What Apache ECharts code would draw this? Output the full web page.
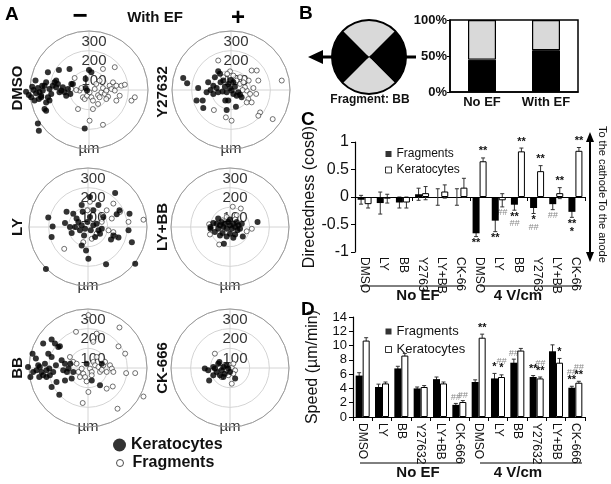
<!DOCTYPE html>
<html><head><meta charset="utf-8">
<script src="https://cdn.jsdelivr.net/npm/echarts@6/dist/echarts.min.js"></script>
<style>html,body{margin:0;padding:0;background:#fff}#c{width:611px;height:484px}</style>
</head><body><div id="c"></div>
<script>
// ---------- Panel A: end-point positions (µm, x to the right = cathode side, y up) ----------
const kerDMSO = [[-320,-9],[-306,-26],[-294,-37],[-282,0],[-272,48],[-289,17],[-260,10],[-252,-12],[-243,-29],[-255,-46],[-235,-3],[-226,22],[-218,39],[-209,90],[-201,5],[-192,-20],[-184,22],[-175,39],[-167,14],[-158,31],[-153,102],[-141,-3],[-133,14],[-124,-12],[-116,-29],[-107,5],[-99,107],[-95,-20],[-90,31],[-218,-63],[-201,-54],[-226,-97],[-218,-105],[-260,-170],[-255,-207],[-243,-37],[-22,-196],[0,102],[12,90],[-17,10],[-10,-3],[-269,-17],[-209,-37],[-167,48],[-150,-12],[-238,22],[-82,31],[-17,56],[-277,-54]];
const fragDMSO = [[-73,61],[-48,-3],[-39,10],[-31,-37],[-22,-46],[-10,-29],[3,-12],[12,-37],[20,-54],[29,5],[37,31],[46,-26],[54,48],[63,-12],[71,10],[80,-20],[88,-3],[97,-34],[105,22],[114,5],[122,39],[131,-3],[139,22],[156,-29],[165,22],[182,27],[131,116],[71,107],[-56,-97],[3,-156],[71,-177],[216,-54],[233,-37],[139,-54],[46,-71],[20,-97],[54,-37],[88,-46],[-65,0],[-90,5]];
const kerY27632 = [[-243,61],[-223,34],[-167,10],[-144,-54],[-141,-92],[-175,-54],[-116,39],[-90,22],[-82,65],[-65,95],[-56,82],[-73,10],[-65,-12],[-53,39],[-39,48],[-31,17],[-22,-12],[-14,31],[-5,10],[3,-3],[12,-20],[20,17],[29,-29],[37,-12],[46,-24],[54,-37],[-14,-54],[-22,-102],[25,-85],[-104,0],[-43,-7],[-2,51],[12,39],[-90,-20],[-124,-12],[-29,-54]];
const fragY27632 = [[-65,150],[-5,95],[12,73],[29,48],[46,31],[63,39],[90,48],[105,99],[131,99],[139,48],[258,48],[80,-3],[97,-20],[128,-20],[88,-46],[80,-63],[105,-63],[148,-114],[139,-131],[212,-148],[3,-156],[-26,-139],[-87,-102],[71,14],[46,65],[-39,65],[-19,82],[114,10],[59,0]];
const kerLY = [[138,173],[10,153],[53,112],[-32,112],[-109,77],[-75,68],[-27,77],[27,85],[-202,48],[-180,3],[-185,-51],[-117,20],[-83,-31],[-66,0],[-49,26],[-41,-17],[-32,9],[-15,-9],[-3,26],[10,51],[14,-17],[27,9],[44,17],[53,-17],[61,-34],[70,-9],[78,51],[146,65],[160,85],[211,68],[206,-17],[223,-77],[129,-43],[117,-63],[155,-54],[-32,-94],[-10,-119],[2,-162],[92,-190],[240,-187],[-214,-213],[-58,43],[-92,0],[36,-51],[-20,-43]];
const fragLY = [[129,119],[163,77],[75,60],[95,85],[121,43],[206,26],[282,37],[104,-17],[129,-26],[138,-48],[44,-34],[19,-60],[-24,-77],[-121,-111],[-58,0],[70,26],[10,128],[-3,85]];
const kerLYBB = [[-99,0],[-85,20],[-68,17],[-60,-9],[-51,9],[-43,26],[-34,0],[-26,17],[-17,-9],[-9,26],[0,9],[9,-9],[17,17],[26,0],[34,26],[43,9],[51,-9],[60,17],[65,-48],[17,-55],[26,-38],[-38,-31],[-51,-43],[-31,-85],[-17,-48],[0,-34],[140,26],[-99,-9],[-77,-26],[38,-17],[0,38],[-60,43]];
const fragLYBB = [[-106,14],[-102,-38],[-55,-89],[-38,34],[14,103],[34,60],[55,94],[111,-9],[85,-22],[26,38],[-17,51]];
const kerBB = [[-305,5],[-293,-46],[-282,73],[-279,-20],[-265,48],[-253,14],[-248,-46],[-236,-20],[-228,124],[-219,22],[-211,-12],[-202,73],[-197,-3],[-194,-37],[-185,145],[-185,56],[-177,-20],[-168,124],[-163,14],[-160,-71],[-151,107],[-143,110],[-134,39],[-126,-12],[-117,-63],[-107,-20],[-99,-3],[-90,22],[-83,-54],[-185,-97],[-146,-136],[-228,-37],[-262,-12],[-211,-46],[-7,22],[19,-63],[61,-88],[70,22],[-75,-20],[-117,22],[-245,5]];
const fragBB = [[-61,184],[44,175],[27,133],[2,269],[160,206],[155,110],[189,73],[194,-26],[240,-26],[95,-105],[126,-94],[2,-122],[-27,-178],[150,-207],[282,-145],[-92,56],[-75,31],[-58,22],[-49,-20],[-32,-3],[-24,-29],[-15,-46],[-7,-68],[10,-3],[19,-20],[27,31],[36,14],[44,56],[53,5],[61,-20],[70,-9],[78,14],[87,31],[95,-20],[112,14],[121,-3],[129,-20],[19,-37],[-41,-46]];
const kerCK = [[-128,-3],[-111,-12],[-106,-63],[-85,-37],[-77,-3],[-68,-20],[-60,22],[-54,31],[-51,-37],[-43,-12],[-34,5],[-26,-29],[-17,14],[-9,-3],[0,-20],[26,-54],[-85,5],[-34,-46]];
const fragCK = [[-77,73],[-51,2],[-26,14],[-17,-12],[0,14],[9,2],[17,22],[26,-12],[17,-29],[9,-80],[-43,-46],[-9,-37]];
const radiusTicks = [100, 200, 300];

// ---------- Panel B ----------
const bCats = ['No EF', 'With EF'];
const bBlack = [45, 58];
const bGray = [55, 42];
const iconQuarters = [1, 1, 1, 1];

// ---------- Panels C & D ----------
const cats = ['DMSO','LY','BB','Y27632','LY+BB','CK-666','DMSO','LY','BB','Y27632','LY+BB','CK-666'];
const fragDir    = [-0.05,-0.11,-0.10,0.05,0.00,0.00,-0.66,-0.43,-0.14,-0.20,-0.13,-0.27];
const fragDirErr = [0.08,0.20,0.10,0.11,0.15,0.15,0.06,0.20,0.10,0.10,0.10,0.10];
const kerDir     = [-0.13,-0.03,-0.10,0.07,0.10,0.17,0.65,-0.06,0.83,0.47,0.07,0.84];
const kerDirErr  = [0.07,0.08,0.10,0.12,0.12,0.17,0.06,0.12,0.06,0.10,0.10,0.06];
const fragDirSig = [[],[],[],[],[],[],['**'],['**'],['**','##'],['*','##'],['##'],['**','*']];
const kerDirSig  = [[],[],[],[],[],[],['**'],['##'],['**'],['**'],['**'],['**']];

const fragSpeed    = [5.8,4.2,6.8,4.0,5.3,1.7,4.9,5.4,7.6,5.6,9.2,4.1];
const fragSpeedErr = [0.4,0.4,0.3,0.2,0.3,0.2,0.3,0.7,0.5,0.2,0.9,0.2];
const kerSpeed     = [10.7,4.7,8.6,4.2,4.7,2.1,11.1,5.6,9.3,5.4,7.6,4.8];
const kerSpeedErr  = [0.4,0.2,0.3,0.2,0.2,0.2,0.5,0.3,0.3,0.2,0.6,0.2];
const fragSpeedSig = [[],[],[],[],[],['##'],[],['*'],['##'],['**'],[],['**','##']];
const kerSpeedSig  = [[],[],[],[],[],['##'],['**'],['*','##'],[],['**','##'],['*'],['**','##']];

const FONT = '"Liberation Sans", Arial, sans-serif';

function toPolar(pts) {
  return pts.map(([x, y]) => {
    let a = Math.atan2(y, x) * 180 / Math.PI - 90;
    a = ((a % 360) + 360) % 360;
    return [Math.hypot(x, y), a];
  });
}

const polars = [
  {label:'DMSO',   c:[89,90],   ker:kerDMSO,   frag:fragDMSO,   lx:18,  ly:88},
  {label:'Y27632', c:[231,90],  ker:kerY27632, frag:fragY27632, lx:163, ly:92},
  {label:'LY',     c:[88,227],  ker:kerLY,     frag:fragLY,     lx:18,  ly:227},
  {label:'LY+BB',  c:[230,227], ker:kerLYBB,   frag:fragLYBB,   lx:163, ly:227},
  {label:'BB',     c:[88,368],  ker:kerBB,     frag:fragBB,     lx:18,  ly:368},
  {label:'CK-666', c:[230,368], ker:kerCK,     frag:fragCK,     lx:163, ly:368}
];

function errSeries(xi, yi, vals, errs, sigs, side) {
  return {
    type:'custom', xAxisIndex:xi, yAxisIndex:yi, z:1, silent:true,
    data: vals.map((v,i) => [i, v, errs[i]]),
    renderItem: (params, api) => {
      const i = api.value(0), v = api.value(1), e = api.value(2);
      const x = api.coord([i, 0])[0] + side * 3.5;
      const y1 = api.coord([i, v + e])[1], y2 = api.coord([i, v - e])[1];
      const st = {stroke:'#333', lineWidth:1};
      const ch = [
        {type:'line', shape:{x1:x, y1:y1, x2:x, y2:y2}, style:st},
        {type:'line', shape:{x1:x-2, y1:y1, x2:x+2, y2:y1}, style:st},
        {type:'line', shape:{x1:x-2, y1:y2, x2:x+2, y2:y2}, style:st}
      ];
      const labs = sigs[i] || [];
      const up = v >= 0;
      let yy = up ? y1 - 1 : y2 + 1;
      labs.forEach(s => {
        const hash = s.indexOf('#') >= 0;
        ch.push({type:'text', z2:10, style:{text:s, x:x, y:yy, align:'center',
          verticalAlign: up ? 'bottom' : 'top',
          fill: hash ? '#8a8a8a' : '#111',
          font: (hash ? 'italic 9px ' : 'bold 11px ') + FONT}});
        yy += up ? -8 : 8;
      });
      return {type:'group', children:ch};
    }
  };
}

const series = [];
polars.forEach((p, i) => {
  series.push({type:'scatter', name:'Fragments', coordinateSystem:'polar', polarIndex:i, clip:false,
    symbol:'circle', symbolSize:5, silent:true,
    itemStyle:{color:'#fff', borderColor:'#222', borderWidth:0.8}, data:toPolar(p.frag)});
  series.push({type:'scatter', name:'Keratocytes', coordinateSystem:'polar', polarIndex:i, clip:false,
    symbol:'circle', symbolSize:6, silent:true,
    itemStyle:{color:'#000'}, data:toPolar(p.ker)});
});
// B
series.push({type:'bar', name:'bBlack', xAxisIndex:0, yAxisIndex:0, stack:'b', data:bBlack, barWidth:28,
  silent:true, itemStyle:{color:'#000', borderColor:'#000', borderWidth:1}});
series.push({type:'bar', name:'bGray', xAxisIndex:0, yAxisIndex:0, stack:'b', data:bGray, barWidth:28,
  silent:true, itemStyle:{color:'#d9d9d9', borderColor:'#000', borderWidth:1.2}});
series.push({type:'pie', name:'icon', center:[369,57], radius:37, startAngle:135, clockwise:true, silent:true,
  label:{show:false}, labelLine:{show:false},
  data: iconQuarters.map((v,k) => ({value:v, name:'q'+k, itemStyle:{color: k%2===0 ? '#d9d9d9' : '#000'}})),
  itemStyle:{borderColor:'#000', borderWidth:0}});
series.push({type:'pie', name:'iconRim', center:[369,57], radius:[36,38], silent:true,
  label:{show:false}, labelLine:{show:false}, data:[{value:1, name:'rim', itemStyle:{color:'#000'}}]});
// C
series.push(errSeries(1, 1, fragDir, fragDirErr, fragDirSig, -1));
series.push(errSeries(1, 1, kerDir, kerDirErr, kerDirSig, 1));
series.push({type:'bar', name:'Fragments', xAxisIndex:1, yAxisIndex:1, data:fragDir, barWidth:7, barGap:'0%', z:2,
  silent:true, itemStyle:{color:'#000'}});
series.push({type:'bar', name:'Keratocytes', xAxisIndex:1, yAxisIndex:1, data:kerDir, barWidth:7, barGap:'0%', z:2,
  silent:true, itemStyle:{color:'#fff', borderColor:'#000', borderWidth:1}});
// D
series.push(errSeries(3, 2, fragSpeed, fragSpeedErr, fragSpeedSig, -1));
series.push(errSeries(3, 2, kerSpeed, kerSpeedErr, kerSpeedSig, 1));
series.push({type:'bar', name:'Fragments', xAxisIndex:3, yAxisIndex:2, data:fragSpeed, barWidth:7, barGap:'0%', z:2,
  silent:true, itemStyle:{color:'#000'}});
series.push({type:'bar', name:'Keratocytes', xAxisIndex:3, yAxisIndex:2, data:kerSpeed, barWidth:7, barGap:'0%', z:2,
  silent:true, itemStyle:{color:'#fff', borderColor:'#000', borderWidth:1}});

const graphic = [
  {type:'text', left:5, top:5, style:{text:'A', font:'bold 19px '+FONT, fill:'#000'}},
  {type:'text', left:299, top:4, style:{text:'B', font:'bold 19px '+FONT, fill:'#000'}},
  {type:'text', left:301, top:110, style:{text:'C', font:'bold 19px '+FONT, fill:'#000'}},
  {type:'text', left:301, top:300, style:{text:'D', font:'bold 19px '+FONT, fill:'#000'}},
  {type:'text', x:80, y:17, style:{text:'−', align:'center', verticalAlign:'middle', font:'bold 26px '+FONT, fill:'#000'}},
  {type:'text', x:155, y:18, style:{text:'With EF', align:'center', verticalAlign:'middle', font:'bold 15px '+FONT, fill:'#111'}},
  {type:'text', x:238, y:18, style:{text:'+', align:'center', verticalAlign:'middle', font:'bold 24px '+FONT, fill:'#000'}},
  // B arrow
  {type:'line', z:0, shape:{x1:318, y1:57, x2:416, y2:57}, style:{stroke:'#000', lineWidth:3}},
  {type:'polygon', z:0, shape:{points:[[308,57],[323,50],[323,64]]}, style:{fill:'#000'}},
  {type:'text', x:370, y:100, style:{text:'Fragment: BB', align:'center', verticalAlign:'middle', font:'bold 12px '+FONT, fill:'#111'}},
  // C side arrow
  {type:'line', shape:{x1:590, y1:140, x2:590, y2:254}, style:{stroke:'#000', lineWidth:2}},
  {type:'polygon', shape:{points:[[586,142],[594,142],[590,132]]}, style:{fill:'#000'}},
  {type:'polygon', shape:{points:[[586,252],[594,252],[590,262]]}, style:{fill:'#000'}},
  {type:'text', x:602, y:162, rotation:-Math.PI/2, style:{text:'To the cathode', align:'center', verticalAlign:'middle', font:'11px '+FONT, fill:'#111'}},
  {type:'text', x:602, y:231, rotation:-Math.PI/2, style:{text:'To the anode', align:'center', verticalAlign:'middle', font:'11px '+FONT, fill:'#111'}},
  // group labels
  {type:'line', shape:{x1:360, y1:286, x2:463, y2:286}, style:{stroke:'#000', lineWidth:1}},
  {type:'line', shape:{x1:480, y1:286, x2:582, y2:286}, style:{stroke:'#000', lineWidth:1}},
  {type:'text', x:418, y:296, style:{text:'No EF', align:'center', verticalAlign:'middle', font:'bold 15px '+FONT, fill:'#111'}},
  {type:'text', x:518, y:296, style:{text:'4 V/cm', align:'center', verticalAlign:'middle', font:'bold 15px '+FONT, fill:'#111'}},
  {type:'line', shape:{x1:360, y1:463, x2:463, y2:463}, style:{stroke:'#000', lineWidth:1}},
  {type:'line', shape:{x1:480, y1:463, x2:582, y2:463}, style:{stroke:'#000', lineWidth:1}},
  {type:'text', x:418, y:473, style:{text:'No EF', align:'center', verticalAlign:'middle', font:'bold 15px '+FONT, fill:'#111'}},
  {type:'text', x:518, y:473, style:{text:'4 V/cm', align:'center', verticalAlign:'middle', font:'bold 15px '+FONT, fill:'#111'}}
];
polars.forEach(p => graphic.push({type:'text', x:p.lx, y:p.ly, rotation:Math.PI/2,
  style:{text:p.label, align:'center', verticalAlign:'middle', font:'bold 15px '+FONT, fill:'#111'}}));

const option = {
  animation:false,
  textStyle:{fontFamily:FONT},
  polar: polars.map(p => ({center:p.c, radius:59})),
  angleAxis: polars.map((p,i) => ({polarIndex:i, type:'value', min:0, max:360, interval:90, startAngle:90, clockwise:false,
    axisLine:{lineStyle:{color:'#9a9a9a', width:1}}, axisTick:{show:false},
    axisLabel:{formatter: v => v === 180 ? 'µm' : '', margin:-8, fontSize:15, color:'#333'},
    splitLine:{lineStyle:{color:'#d4d4d4', width:1}}})),
  radiusAxis: polars.map((p,i) => ({polarIndex:i, type:'value', min:0, max:radiusTicks[2], interval:radiusTicks[0],
    axisLine:{show:false}, axisTick:{show:false},
    axisLabel:{showMinLabel:false, align:'center', verticalAlign:'top', margin:0, padding:[3,0,0,10], fontSize:15, color:'#333'},
    splitLine:{lineStyle:{color:'#d4d4d4', width:1}}})),
  grid: [
    {left:450, right:33, top:20, bottom:392, show:true, borderColor:'#000', borderWidth:1.5, backgroundColor:'transparent'},
    {left:355, right:26, top:142, bottom:232},
    {left:353, right:26, top:317, bottom:67}
  ],
  xAxis: [
    {gridIndex:0, type:'category', data:bCats, axisTick:{show:false}, axisLine:{lineStyle:{color:'#000', width:1.5}},
      axisLabel:{fontSize:13, fontWeight:'bold', color:'#111', margin:4}},
    {gridIndex:1, type:'category', data:cats, position:'bottom', axisLine:{onZero:true, lineStyle:{color:'#000', width:1.2}},
      axisTick:{show:true, length:4, lineStyle:{color:'#000'}}, axisLabel:{show:false}},
    {gridIndex:1, type:'category', data:cats, position:'bottom', axisLine:{show:false, onZero:false}, axisTick:{show:false},
      axisLabel:{rotate:-90, fontSize:12, color:'#111', margin:5, interval:0, width:38, overflow:'truncate', ellipsis:''}},
    {gridIndex:2, type:'category', data:cats, position:'bottom', axisLine:{lineStyle:{color:'#000', width:1.2}},
      axisTick:{show:true, length:4, lineStyle:{color:'#000'}}, axisLabel:{rotate:-90, fontSize:12, color:'#111', margin:6, interval:0}}
  ],
  yAxis: [
    {gridIndex:0, type:'value', min:0, max:100, interval:50, axisLine:{show:true, lineStyle:{color:'#000', width:1.5}},
      axisTick:{show:true, length:3}, splitLine:{show:false},
      axisLabel:{formatter:'{value}%', fontSize:13, fontWeight:'bold', color:'#111', margin:3, showMinLabel:true, showMaxLabel:true, hideOverlap:false}},
    {gridIndex:1, type:'value', min:-1, max:1, interval:0.5, axisLine:{show:true, lineStyle:{color:'#000', width:1.2}},
      axisTick:{show:true, length:4}, splitLine:{show:false},
      axisLabel:{fontSize:16, color:'#111', margin:6, showMinLabel:true, showMaxLabel:true, hideOverlap:false},
      name:'Directedness (cosθ)', nameLocation:'middle', nameGap:37, nameTextStyle:{fontSize:16, color:'#111'}},
    {gridIndex:2, type:'value', min:0, max:14, interval:2, axisLine:{show:true, lineStyle:{color:'#000', width:1.2}},
      axisTick:{show:true, length:4}, splitLine:{show:false},
      axisLabel:{fontSize:13, lineHeight:13, color:'#111', margin:6, showMinLabel:true, showMaxLabel:true, hideOverlap:false},
      name:'Speed (µm/min)', nameLocation:'middle', nameGap:32, nameTextStyle:{fontSize:16, color:'#111'}}
  ],
  legend: [
    {left:108, top:432, selectedMode:false, itemWidth:13, itemHeight:13,
      textStyle:{fontSize:16, fontWeight:'bold', color:'#111'},
      data:[{name:'Keratocytes', icon:'circle', itemStyle:{color:'#000', borderWidth:0}}]},
    {left:111, top:450, selectedMode:false, itemWidth:7, itemHeight:7,
      textStyle:{fontSize:16, fontWeight:'bold', color:'#111', padding:[0,0,0,4]},
      data:[{name:'Fragments', icon:'circle', itemStyle:{color:'#fff', borderColor:'#222', borderWidth:1}}]},
    {left:380, top:143, orient:'vertical', selectedMode:false, itemWidth:6, itemHeight:6, itemGap:4,
      textStyle:{fontSize:12, color:'#111'},
      data:[{name:'Fragments', icon:'rect', itemStyle:{color:'#000', borderWidth:0}},
            {name:'Keratocytes', icon:'rect', itemStyle:{color:'#fff', borderColor:'#000', borderWidth:1}}]},
    {left:380, top:320, orient:'vertical', selectedMode:false, itemWidth:6, itemHeight:6, itemGap:5,
      textStyle:{fontSize:13, color:'#111'},
      data:[{name:'Fragments', icon:'rect', itemStyle:{color:'#000', borderWidth:0}},
            {name:'Keratocytes', icon:'rect', itemStyle:{color:'#fff', borderColor:'#000', borderWidth:1}}]}
  ],
  series: series,
  graphic: graphic
};

const chart = echarts.init(document.getElementById('c'), null, {renderer:'canvas'});
chart.setOption(option);
</script>
</body></html>
